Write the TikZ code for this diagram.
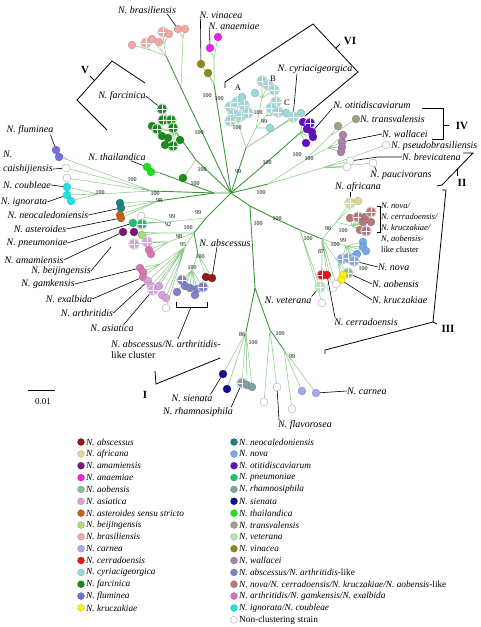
\documentclass[tikz,border=0pt]{standalone}
\usepackage{fontspec}
\setmainfont{Liberation Serif}
\usetikzlibrary{backgrounds}

\definecolor{cAbs}{HTML}{8B1A1A}
\definecolor{cAfr}{HTML}{DCD898}
\definecolor{cAma}{HTML}{7A1878}
\definecolor{cAna}{HTML}{F020E8}
\definecolor{cAob}{HTML}{88C090}
\definecolor{cAsi}{HTML}{D8A0D8}
\definecolor{cAst}{HTML}{C0661A}
\definecolor{cBei}{HTML}{B0D878}
\definecolor{cBra}{HTML}{F0A8A8}
\definecolor{cCar}{HTML}{A8A8F0}
\definecolor{cCer}{HTML}{E81818}
\definecolor{cCyr}{HTML}{98D8D8}
\definecolor{cFar}{HTML}{1E8A1E}
\definecolor{cFlu}{HTML}{7070E0}
\definecolor{cKru}{HTML}{F8F018}
\definecolor{cNeo}{HTML}{1E8080}
\definecolor{cNov}{HTML}{78A8E0}
\definecolor{cOti}{HTML}{6010C0}
\definecolor{cPne}{HTML}{20C070}
\definecolor{cRha}{HTML}{80A0A0}
\definecolor{cSie}{HTML}{10108A}
\definecolor{cTha}{HTML}{20E020}
\definecolor{cTra}{HTML}{A0A080}
\definecolor{cVet}{HTML}{B0E8B0}
\definecolor{cVin}{HTML}{8A8A20}
\definecolor{cWal}{HTML}{A880A8}
\definecolor{cAbl}{HTML}{8080C8}
\definecolor{cNol}{HTML}{B87878}
\definecolor{cArt}{HTML}{D878B0}
\definecolor{cIgn}{HTML}{20E0E0}
\definecolor{brgreen}{HTML}{3A9A3A}
\definecolor{twgreen}{HTML}{8CCC8C}

\begin{document}
\begin{tikzpicture}[x=1pt,y=-1pt,
    dot/.style={circle,inner sep=0pt,minimum size=8pt,fill=#1,draw=#1!75!black,line width=0.2pt},
    mdot/.style={circle,inner sep=0pt,minimum size=10.5pt,fill=#1,draw=gray!35,line width=0.9pt,
      path picture={\draw[white,line width=0.5pt] (path picture bounding box.north) -- (path picture bounding box.south)
        (path picture bounding box.west) -- (path picture bounding box.east);}},
    ndot/.style={circle,inner sep=0pt,minimum size=8pt,fill=white,draw=gray!70,line width=0.4pt},
    ldot/.style={circle,inner sep=0pt,minimum size=7pt,fill=#1,draw=#1!75!black,line width=0.2pt},
    lndot/.style={circle,inner sep=0pt,minimum size=7pt,fill=white,draw=gray!70,line width=0.4pt},
    br/.style={draw=brgreen,line width=0.9pt},
    tw/.style={draw=twgreen,line width=0.55pt},
    bs/.style={font=\fontsize{6}{6}\selectfont,inner sep=0pt},
    sp/.style={font=\fontsize{10}{12}\selectfont\itshape,inner sep=0pt},
    lt/.style={font=\fontsize{9.3}{11}\selectfont,inner sep=0pt,anchor=west},
    rn/.style={font=\fontsize{11}{13}\selectfont\bfseries,inner sep=0pt},
    ld/.style={black,line width=0.6pt},
    clade/.style={black,line width=0.8pt}]
\useasboundingbox (0,0) rectangle (480,627);

% junctions
\coordinate (r) at (231,193);
\coordinate (jBr0) at (181,88);
\coordinate (jBr1) at (166,56);
\coordinate (jBr2) at (150,50);
\coordinate (jBr3) at (164,44);
\coordinate (jBr4) at (183,38);
\coordinate (jVi0) at (214,84);
\coordinate (jVi1) at (214,58);
\coordinate (jFa0) at (196,160);
\coordinate (jFa1) at (176,132);
\coordinate (jL0) at (214,193);
\coordinate (jTh) at (160,173);
\coordinate (jL1) at (152,191);
\coordinate (jFl) at (68,160);
\coordinate (jCo) at (98,194);
\coordinate (jNe) at (158,201);
\coordinate (jLL0) at (206,218);
\coordinate (jLL1) at (194,233);
\coordinate (jPn) at (166,222);
\coordinate (jAm) at (160,233);
\coordinate (jPk) at (168,242);
\coordinate (jGa0) at (185,247);
\coordinate (jGa1) at (160,264);
\coordinate (jAb0) at (198,254);
\coordinate (jAb1) at (192,270);
\coordinate (jCy0) at (246,148);
\coordinate (jCyA) at (238,122);
\coordinate (jCyBC) at (256,128);
\coordinate (jCyB) at (262,98);
\coordinate (jCyC) at (266,116);
\coordinate (jOt0) at (258,170);
\coordinate (jOt) at (300,133);
\coordinate (jR0) at (268,184);
\coordinate (jR1) at (305,160);
\coordinate (jTr) at (330,136);
\coordinate (jWa) at (328,148);
\coordinate (jR2) at (322,168);
\coordinate (jD0) at (250,206);
\coordinate (jIII0) at (276,219);
\coordinate (jIII1) at (300,230);
\coordinate (jIII2) at (322,239);
\coordinate (jAf) at (336,222);
\coordinate (jNl) at (352,226);
\coordinate (jNo) at (346,246);
\coordinate (jAo) at (338,262);
\coordinate (jB1) at (255,288);
\coordinate (jB2) at (246,332);
\coordinate (jB3) at (270,330);
\coordinate (jB4) at (284,350);

% leaves
\node[dot=cBra] (bra1) at (132,45) {};
\node[mdot=cBra] (bra2) at (146,43) {};
\node[dot=cBra] (bra3) at (152,39) {};
\node[dot=cBra] (bra4) at (159,42) {};
\node[mdot=cBra] (bra5) at (163,32) {};
\node[dot=cBra] (bra6) at (169,34) {};
\node[dot=cBra] (bra7) at (178,29) {};
\node[dot=cBra] (bra8) at (185,29) {};
\node[dot=cVin] (vin1) at (201,64) {};
\node[dot=cVin] (vin2) at (208,73) {};
\node[dot=cAna] (ana1) at (210,48) {};
\node[dot=cAna] (ana2) at (218,37) {};
\node[mdot=cFar] (far1) at (162,109) {};
\node[dot=cFar] (far2) at (152,126) {};
\node[mdot=cFar] (far3) at (163,120) {};
\node[mdot=cFar] (far4) at (171,120) {};
\node[mdot=cFar] (far5) at (157,129) {};
\node[mdot=cFar] (far6) at (173,128) {};
\node[dot=cFar] (far7) at (162,136) {};
\node[dot=cFar] (far8) at (168,138) {};
\node[dot=cFar] (far9) at (180,140) {};
\node[mdot=cFar] (far10) at (173,146) {};
\node[dot=cFar] (far11) at (165,145) {};
\node[dot=cFar] (far12) at (183,178) {};
\node[dot=cTha] (tha1) at (147,167) {};
\node[dot=cTha] (tha2) at (151,172) {};
\node[dot=cFlu] (flu1) at (56,150) {};
\node[dot=cFlu] (flu2) at (59,157) {};
\node[ndot] (cai1) at (66,168) {};
\node[ndot] (cai2) at (67,178) {};
\node[dot=cIgn] (cou1) at (67,187) {};
\node[dot=cIgn] (cou2) at (67,195) {};
\node[dot=cIgn] (cou3) at (71,201) {};
\node[dot=cNeo] (neo1) at (120,203) {};
\node[dot=cNeo] (neo2) at (121,208) {};
\node[dot=cAst] (ast1) at (120,215) {};
\node[dot=cAst] (ast2) at (121,218) {};
\node[ndot] (non1) at (141,216) {};
\node[dot=cPne] (pne1) at (133,223) {};
\node[mdot=cPne] (pne2) at (142,224) {};
\node[dot=cAma] (ama1) at (123,232) {};
\node[dot=cAma] (ama2) at (134,232) {};
\node[dot=cBei] (bei1) at (142,235) {};
\node[mdot=cAsi] (pk1) at (134,244) {};
\node[mdot=cAsi] (pk2) at (147,242) {};
\node[dot=cArt] (pk3) at (149,250) {};
\node[dot=cArt] (pk4) at (151,254) {};
\node[dot=cArt] (gam1) at (140,268) {};
\node[dot=cArt] (gam2) at (143,272) {};
\node[dot=cArt] (gam3) at (143,277) {};
\node[dot=cAsi] (asi1) at (148,281) {};
\node[dot=cAsi] (asi2) at (151,286) {};
\node[mdot=cAsi] (asi3) at (153,290) {};
\node[dot=cAsi] (asi4) at (159,286) {};
\node[dot=cAsi] (asi5) at (162,295) {};
\node[dot=cAsi] (asi6) at (166,298) {};
\node[ndot] (non2) at (166,308) {};
\node[mdot=cAbl] (abl1) at (182,280) {};
\node[dot=cAbl] (abl2) at (177,292) {};
\node[dot=cAbl] (abl3) at (185,286) {};
\node[dot=cAbl] (abl4) at (190,288) {};
\node[dot=cAbl] (abl5) at (195,295) {};
\node[dot=cAbl] (abl6) at (197,289) {};
\node[mdot=cAbl] (abl7) at (203,287) {};
\node[dot=cAbs] (abs1) at (206,277) {};
\node[dot=cAbs] (abs2) at (212,278) {};
\node[mdot=cCyr] (cyA1) at (230,107) {};
\node[mdot=cCyr] (cyA2) at (237,102) {};
\node[dot=cCyr] (cyA3) at (242,97) {};
\node[mdot=cCyr] (cyA4) at (244,105) {};
\node[mdot=cCyr] (cyA5) at (233,114) {};
\node[mdot=cCyr] (cyA6) at (241,116) {};
\node[mdot=cCyr] (cyA7) at (248,113) {};
\node[mdot=cCyr] (cyA8) at (230,121) {};
\node[mdot=cCyr] (cyB1) at (262,81) {};
\node[mdot=cCyr] (cyB2) at (268,85) {};
\node[mdot=cCyr] (cyB3) at (274,90) {};
\node[dot=cCyr] (cyB4) at (255,93) {};
\node[mdot=cCyr] (cyC1) at (276,102) {};
\node[mdot=cCyr] (cyC2) at (271,108) {};
\node[mdot=cCyr] (cyC3) at (278,112) {};
\node[dot=cCyr] (cyC4) at (286,113) {};
\node[dot=cCyr] (cyC5) at (270,128) {};
\node[mdot=cCyr] (cyr1) at (293,117) {};
\node[dot=cCyr] (cyr2) at (301,113) {};
\node[dot=cOti] (oti1) at (303,122) {};
\node[mdot=cOti] (oti2) at (310,123) {};
\node[dot=cOti] (oti3) at (307,129) {};
\node[dot=cOti] (oti4) at (312,132) {};
\node[dot=cOti] (oti5) at (313,137) {};
\node[dot=cOti] (oti6) at (306,143) {};
\node[dot=cTra] (tra1) at (338,126) {};
\node[dot=cTra] (tra2) at (356,119) {};
\node[dot=cWal] (wal1) at (343,135) {};
\node[dot=cWal] (wal2) at (342,142) {};
\node[dot=cWal] (wal3) at (342,147) {};
\node[dot=cWal] (wal4) at (341,152) {};
\node[ndot] (pse1) at (386,145) {};
\node[ndot] (bre1) at (350,161) {};
\node[ndot] (bre2) at (347,167) {};
\node[ndot] (pau1) at (373,163) {};
\node[mdot=cAfr] (afr1) at (350,203) {};
\node[dot=cAfr] (afr2) at (358,201) {};
\node[dot=cNol] (nol1) at (350,218) {};
\node[mdot=cNol] (nol2) at (358,217) {};
\node[dot=cNol] (nol3) at (365,217) {};
\node[mdot=cNol] (nol4) at (371,212) {};
\node[dot=cNol] (nol5) at (363,222) {};
\node[dot=cNol] (nol6) at (371,222) {};
\node[dot=cNol] (nol7) at (360,230) {};
\node[mdot=cNol] (nol8) at (366,231) {};
\node[dot=cNov] (nov1) at (363,242) {};
\node[dot=cNov] (nov2) at (363,247) {};
\node[dot=cNov] (nov3) at (366,251) {};
\node[dot=cNov] (nov4) at (357,254) {};
\node[dot=cNov] (nov5) at (353,257) {};
\node[mdot=cNov] (nov6) at (342,259) {};
\node[mdot=cNov] (nov7) at (348,258) {};
\node[mdot=cNov] (nov8) at (354,261) {};
\node[mdot=cAob] (aob1) at (348,273) {};
\node[dot=cKru] (kru1) at (343,275) {};
\node[dot=cKru] (kru2) at (341,280) {};
\node[mdot=cCer] (cer1) at (322,275) {};
\node[dot=cCer] (cer2) at (327,275) {};
\node[mdot=cVet] (vet1) at (320,287) {};
\node[mdot=white] (non4) at (332,287) {};
\node[ndot] (non5) at (336,284) {};
\node[ndot] (non3) at (322,303) {};
\node[dot=cSie] (sie1) at (223,374) {};
\node[dot=cSie] (sie2) at (227,389) {};
\node[mdot=cRha] (rha1) at (242,383) {};
\node[dot=cRha] (rha2) at (247,385) {};
\node[dot=cRha] (rha3) at (252,387) {};
\node[ndot] (non6) at (264,402) {};
\node[ndot] (non7) at (277,387) {};
\node[ndot] (non8) at (292,409) {};
\node[dot=cCar] (car1) at (302,391) {};
\node[dot=cCar] (car2) at (316,393) {};

% branches
\begin{scope}[on background layer]
\draw[br] (r) -- (jBr0) -- (jBr1);
\draw[tw] (jBr1) -- (jBr2) (jBr2) -- (bra1) (jBr2) -- (bra2) (jBr1) -- (bra3) (jBr1) -- (jBr3)
  (jBr3) -- (bra4) (jBr3) -- (bra5) (jBr3) -- (bra6) (jBr0) -- (jBr4) (jBr4) -- (bra7) (jBr4) -- (bra8);
\draw[br] (r) -- (jVi0);
\draw[tw] (jVi0) -- (vin1) (jVi0) -- (vin2) (jVi0) -- (jVi1) (jVi1) -- (ana1) (jVi1) -- (ana2);
\draw[br] (r) -- (jFa0) -- (jFa1);
\draw[tw] (jFa0) -- (far12) (jFa1) -- (far1) (jFa1) -- (far2) (jFa1) -- (far3) (jFa1) -- (far4) (jFa1) -- (far5)
  (jFa1) -- (far6) (jFa1) -- (far7) (jFa1) -- (far8) (jFa1) -- (far9) (jFa1) -- (far10) (jFa1) -- (far11);
\draw[br] (r) -- (jL0) -- (jTh);
\draw[tw] (jTh) -- (tha1) (jTh) -- (tha2);
\draw[br] (jL0) -- (jL1);
\draw[tw] (jL1) -- (jFl) (jFl) -- (flu1) (jFl) -- (flu2) (jL1) -- (cai1) (jL1) -- (cai2)
  (jL1) -- (jCo) (jCo) -- (cou1) (jCo) -- (cou2) (jCo) -- (cou3);
\draw[br] (jL0) -- (jNe);
\draw[tw] (jNe) -- (neo1) (jNe) -- (neo2) (jNe) -- (ast1) (jNe) -- (ast2);
\draw[br] (r) -- (jLL0) -- (jLL1);
\draw[tw] (jLL0) -- (jPn) (jPn) -- (non1) (jPn) -- (pne1) (jPn) -- (pne2)
  (jLL1) -- (jAm) (jAm) -- (ama1) (jAm) -- (ama2) (jAm) -- (bei1)
  (jLL1) -- (jPk) (jPk) -- (pk1) (jPk) -- (pk2) (jPk) -- (pk3) (jPk) -- (pk4);
\draw[tw] (jLL1) -- (jGa0) (jGa0) -- (jGa1) (jGa1) -- (gam1) (jGa1) -- (gam2) (jGa1) -- (gam3)
  (jGa0) -- (asi1) (jGa0) -- (asi2) (jGa0) -- (asi3) (jGa0) -- (asi4) (jGa0) -- (asi5) (jGa0) -- (asi6) (jGa0) -- (non2);
\draw[br] (jLL1) -- (jAb0);
\draw[tw] (jAb0) -- (abs1) (jAb0) -- (abs2) (jAb0) -- (jAb1) (jAb1) -- (abl1) (jAb1) -- (abl2) (jAb1) -- (abl3)
  (jAb1) -- (abl4) (jAb1) -- (abl5) (jAb1) -- (abl6) (jAb1) -- (abl7);
\draw[br] (r) -- (jCy0);
\draw[tw] (jCy0) -- (jCyA) (jCyA) -- (cyA1) (jCyA) -- (cyA2) (jCyA) -- (cyA3) (jCyA) -- (cyA4) (jCyA) -- (cyA5)
  (jCyA) -- (cyA6) (jCyA) -- (cyA7) (jCyA) -- (cyA8)
  (jCy0) -- (jCyBC) (jCyBC) -- (jCyB) (jCyB) -- (cyB1) (jCyB) -- (cyB2) (jCyB) -- (cyB3) (jCyB) -- (cyB4)
  (jCyBC) -- (jCyC) (jCyC) -- (cyC1) (jCyC) -- (cyC2) (jCyC) -- (cyC3) (jCyC) -- (cyC4) (jCyBC) -- (cyC5)
  (jCy0) -- (cyr1) (jCy0) -- (cyr2);
\draw[br] (r) -- (jOt0) -- (jOt);
\draw[tw] (jOt) -- (oti1) (jOt) -- (oti2) (jOt) -- (oti3) (jOt) -- (oti4) (jOt) -- (oti5) (jOt) -- (oti6);
\draw[br] (r) -- (jR0);
\draw[tw] (jR0) -- (jR1) (jR1) -- (jTr) (jTr) -- (tra1) (jTr) -- (tra2)
  (jR1) -- (jWa) (jWa) -- (wal1) (jWa) -- (wal2) (jWa) -- (wal3) (jWa) -- (wal4)
  (jR0) -- (jR2) (jR2) -- (pse1) (jR2) -- (bre1) (jR2) -- (bre2) (jR2) -- (pau1);
\draw[br] (r) -- (jD0) -- (jIII0) -- (jIII1) -- (jIII2);
\draw[tw] (jIII1) -- (vet1) (jIII1) -- (non3) (jIII2) -- (jAf) (jAf) -- (afr1) (jAf) -- (afr2)
  (jAf) -- (jNl) (jNl) -- (nol1) (jNl) -- (nol2) (jNl) -- (nol3) (jNl) -- (nol4) (jNl) -- (nol5)
  (jNl) -- (nol6) (jNl) -- (nol7) (jNl) -- (nol8)
  (jIII2) -- (jNo) (jNo) -- (nov1) (jNo) -- (nov2) (jNo) -- (nov3) (jNo) -- (nov4) (jNo) -- (nov5)
  (jNo) -- (nov6) (jNo) -- (nov7) (jNo) -- (nov8)
  (jIII2) -- (jAo) (jAo) -- (aob1) (jAo) -- (kru1) (jAo) -- (kru2)
  (jIII2) -- (cer1) (jIII2) -- (cer2) (jIII2) -- (non4) (jIII2) -- (non5);
\draw[br] (jD0) -- (jB1) -- (jB2);
\draw[tw] (jB2) -- (sie1) (jB2) -- (sie2) (jB2) -- (rha1) (jB2) -- (rha2) (jB2) -- (rha3);
\draw[br] (jB1) -- (jB3) -- (jB4);
\draw[tw] (jB3) -- (non6) (jB3) -- (non7) (jB4) -- (car1) (jB4) -- (car2) (jB4) -- (non8);
\end{scope}

% bootstrap values
\node[bs] (bs1) at (207,96) {100};
\node[bs] (bs2) at (219,99) {100};
\node[bs] (bs3) at (199,133) {100};
\node[bs] (bs4) at (202,170) {100};
\node[bs] (bs5) at (195,184) {100};
\node[bs] (bs6) at (132,180) {100};
\node[bs] (bs7) at (100,193) {100};
\node[bs] (bs8) at (155,194) {100};
\node[bs] (bs9) at (159,201) {98};
\node[bs] (bs10) at (237,128) {100};
\node[bs] (bs11) at (258,113) {100};
\node[bs] (bs12) at (264,122) {99};
\node[bs] (bs13) at (238,172) {99};
\node[bs] (bs14) at (267,163) {100};
\node[bs] (bs15) at (297,155) {100};
\node[bs] (bs16) at (309,159) {100};
\node[bs] (bs17) at (261,193) {100};
\node[bs] (bs18) at (258,224) {100};
\node[bs] (bs19) at (277,219) {100};
\node[bs] (bs20) at (198,213) {99};
\node[bs] (bs21) at (172,217) {99};
\node[bs] (bs22) at (168,225) {92};
\node[bs] (bs23) at (188,228) {100};
\node[bs] (bs24) at (179,237) {98};
\node[bs] (bs25) at (183,245) {95};
\node[bs] (bs26) at (200,257) {100};
\node[bs] (bs27) at (192,268) {100};
\node[bs] (bs28) at (308,239) {100};
\node[bs] (bs29) at (328,229) {96};
\node[bs] (bs30) at (343,231) {100};
\node[bs] (bs31) at (343,241) {99};
\node[bs] (bs32) at (335,245) {100};
\node[bs] (bs33) at (321,252) {87};
\node[bs] (bs34) at (363,269) {100};
\node[bs] (bs35) at (242,335) {86};
\node[bs] (bs36) at (253,343) {100};
\node[bs] (bs37) at (280,334) {100};
\node[bs] (bs38) at (292,357) {99};

% subgroup letters
\node[font=\fontsize{8.5}{10}\selectfont,inner sep=0pt] (lA) at (238,88) {A};
\node[font=\fontsize{8.5}{10}\selectfont,inner sep=0pt] (lB) at (273,79) {B};
\node[font=\fontsize{8.5}{10}\selectfont,inner sep=0pt] (lC) at (287,103) {C};

% species labels
\node[sp] (lBra) at (147,10) {N. brasiliensis};
\node[sp] (lVin) at (221,15) {N. vinacea};
\node[sp] (lAna) at (234,26) {N. anaemiae};
\node[sp] (lCyr) at (315,69) {N. cyriacigeorgica};
\node[sp] (lOti) at (372,105) {N. otitidiscaviarum};
\node[sp,anchor=west] (lTra) at (360,119) {N. transvalensis};
\node[sp,anchor=west] (lWal) at (382,134) {N. wallacei};
\node[sp,anchor=west] (lPse) at (391,146) {N. pseudobrasiliensis};
\node[sp,anchor=west] (lBrv) at (402,157) {N. brevicatena};
\node[sp] (lPau) at (401,175) {N. paucivorans};
\node[sp] (lAfr) at (358,187) {N. africana};
\node[font=\fontsize{8.5}{11}\selectfont,inner sep=0pt,align=left,anchor=north west] (lNol) at (381,203)
  {\textit{N. nova/}\\\textit{N. cerradoensis/}\\\textit{N. kruczakiae/}\\\textit{N, aobensis}-\\like cluster};
\node[sp,anchor=west] (lNov) at (378,267) {N. nova};
\node[sp,anchor=west] (lAob) at (372,284) {N. aobensis};
\node[sp,anchor=west] (lKru) at (372,300) {N. kruczakiae};
\node[sp] (lCer) at (366,322) {N. cerradoensis};
\node[sp] (lVet) at (288,300) {N. veterana};
\node[sp,anchor=west] (lCar) at (347,391) {N. carnea};
\node[sp] (lFla) at (305,425) {N. flavorosea};
\node[sp] (lRha) at (198,412) {N. rhamnosiphila};
\node[sp] (lSie) at (192,398) {N. sienata};
\node[sp] (lAbs) at (225,243) {N. abscessus};
\node[font=\fontsize{10}{11}\selectfont,inner sep=0pt,align=left,anchor=north west] (lAbl) at (111,340)
  {\textit{N. abscessus/N. arthritidis}-\\like cluster};
\node[sp] (lAsi) at (112,328) {N. asiatica};
\node[sp] (lArt) at (87,313) {N. arthritidis};
\node[sp] (lExa) at (69,299) {N. exalbida};
\node[sp] (lGam) at (48,284) {N. gamkensis};
\node[sp] (lBei) at (61,271) {N. beijingensis};
\node[sp] (lAma) at (34,260) {N. amamiensis};
\node[sp] (lPne) at (37,243) {N. pneumoniae};
\node[sp] (lAst) at (40,229) {N. asteroides};
\node[sp] (lNeo) at (48,215) {N. neocaledoniensis};
\node[sp] (lIgn) at (24,202) {N. ignorata};
\node[sp] (lCou) at (27,185) {N. coubleae};
\node[sp,font=\fontsize{10}{14}\selectfont\itshape,align=left,anchor=north west] (lCai) at (3,151) {N.\\caishijiensis};
\node[sp] (lFlu) at (30,130) {N. fluminea};
\node[sp] (lTha) at (117,157) {N. thailandica};
\node[sp] (lFar) at (122,96) {N. farcinica};
\coordinate (beiEnd) at (111,247);

% leader lines
\draw[ld] ([xshift=-9pt]lBra.south east) -- (bra7);
\draw[ld] ([xshift=1pt]lVin.south west) -- (vin1);
\draw[ld] ([xshift=1pt]lAna.south west) -- (ana1);
\draw[ld] ([xshift=-18pt]lCyr.south) -- (cyr1);
\draw[ld] ([xshift=-40pt]lOti.south) -- (oti4);
\draw[ld] (lWal.west) -- (wal2);
\draw[ld] (lBrv.west) -- ++(-24,0) -- (bre1);
\draw[ld] ([xshift=6pt]lPau.north west) -- (pau1);
\draw[ld] ([xshift=-8pt]lAfr.south) -- (afr1);
\draw[ld] (lNol.north west) ++(-4,3) -- ++(3,0) -- ++(0,26) -- ++(-3,0);
\draw[ld] (lNov.west) -- (nov8);
\draw[ld] (lAob.west) -- (aob1);
\draw[ld] (lKru.west) -- (kru2);
\draw[ld] ([xshift=1pt]lCer.north west) -- (cer2);
\draw[ld] (lVet.north east) -- (vet1);
\draw[ld] (lCar.west) -- (car2);
\draw[ld] ([xshift=1pt]lFla.north west) -- (non7);
\draw[ld] ([xshift=-2pt]lRha.north east) -- (rha1);
\draw[ld] ([xshift=-2pt]lSie.north east) -- (sie1);
\draw[ld] ([xshift=-8pt]lAbs.south) -- (abs2);
\draw[ld] ([xshift=-10pt]lAsi.north east) -- (asi3);
\draw[ld] (lArt.east) -- (asi1);
\draw[ld] (lExa.east) -- (gam3);
\draw[ld] (lGam.east) -- (gam1);
\draw[ld] (lBei.east) -- (beiEnd);
\draw[ld] (lAma.east) -- (ama1);
\draw[ld] (lPne.east) -- (pne1);
\draw[ld] (lAst.east) -- (ast2);
\draw[ld] (lNeo.east) -- (neo2);
\draw[ld] (lIgn.east) -- (cou2);
\draw[ld] (lCou.east) -- (cou1);
\draw[ld] ([yshift=5pt]lCai.south east) -- (cai1);
\draw[ld] ([xshift=-3pt]lFlu.south east) -- (flu1);
\draw[ld] ([xshift=-15pt]lTha.south east) -- (tha1);
\draw[ld] (lFar.east) -- (far1);

% clade brackets
\draw[clade] (225,88) -- (225,82) -- (313,24) -- (358,72) -- (305,116);
\draw[clade] (336,48) -- (340,44);
\node[rn] (nVI) at (350,41) {VI};
\draw[clade] (145,83) -- (112,61) -- (77,100) -- (107,130);
\draw[clade] (94,80) -- (90,76);
\node[rn] (nV) at (85,70) {V};
\draw[clade] (422,108) -- (443,108) -- (443,139) -- (432,139);
\draw[clade] (443,125) -- (449,125);
\node[rn] (nIV) at (462,126) {IV};
\draw[clade] (463,153) -- (473,153) -- (442,185) -- (437,186);
\draw[clade] (457,169) -- (457,176);
\node[rn] (nII) at (462,183) {II};
\draw[clade] (442,190) -- (446,190) -- (433,322) -- (325,350) -- (325,354);
\draw[clade] (433,322) -- (437,324);
\node[rn] (nIII) at (448,329) {III};
\draw[clade] (155,371) -- (156,384) -- (220,358);
\node[rn] (nI) at (145,395) {I};
\draw[ld] (176,302) -- (176,307) -- (207,307) -- (207,302);
\draw[ld] (191,307) -- ([xshift=67pt,yshift=1pt]lAbl.north west);

% scale bar
\draw[ld] (28,390) -- (55,390);
\node[font=\fontsize{9}{10}\selectfont,inner sep=0pt] (sc) at (43,402) {0.01};

% legend
\node[ldot=cAbs] (k1) at (81,442) {};   \node[lt] (t1) at (86,442) {\textit{N. abscessus}};
\node[ldot=cAfr] (k2) at (81,453.9) {}; \node[lt] (t2) at (86,453.9) {\textit{N. africana}};
\node[ldot=cAma] (k3) at (81,465.7) {}; \node[lt] (t3) at (86,465.7) {\textit{N. amamiensis}};
\node[ldot=cAna] (k4) at (81,477.6) {}; \node[lt] (t4) at (86,477.6) {\textit{N. anaemiae}};
\node[ldot=cAob] (k5) at (81,489.4) {}; \node[lt] (t5) at (86,489.4) {\textit{N. aobensis}};
\node[ldot=cAsi] (k6) at (81,501.3) {}; \node[lt] (t6) at (86,501.3) {\textit{N. asiatica}};
\node[ldot=cAst] (k7) at (81,513.1) {}; \node[lt] (t7) at (86,513.1) {\textit{N. asteroides sensu stricto}};
\node[ldot=cBei] (k8) at (81,525) {};   \node[lt] (t8) at (86,525) {\textit{N. beijingensis}};
\node[ldot=cBra] (k9) at (81,536.8) {}; \node[lt] (t9) at (86,536.8) {\textit{N. brasiliensis}};
\node[ldot=cCar] (k10) at (81,548.7) {}; \node[lt] (t10) at (86,548.7) {\textit{N. carnea}};
\node[ldot=cCer] (k11) at (81,560.5) {}; \node[lt] (t11) at (86,560.5) {\textit{N. cerradoensis}};
\node[ldot=cCyr] (k12) at (81,572.4) {}; \node[lt] (t12) at (86,572.4) {\textit{N. cyriacigeorgica}};
\node[ldot=cFar] (k13) at (81,584.2) {}; \node[lt] (t13) at (86,584.2) {\textit{N. farcinica}};
\node[ldot=cFlu] (k14) at (81,596.1) {}; \node[lt] (t14) at (86,596.1) {\textit{N. fluminea}};
\node[ldot=cKru] (k15) at (81,607.9) {}; \node[lt] (t15) at (86,607.9) {\textit{N. kruczakiae}};
\node[ldot=cNeo] (k16) at (234,442) {};   \node[lt] (t16) at (239,442) {\textit{N. neocaledoniensis}};
\node[ldot=cNov] (k17) at (234,453.9) {}; \node[lt] (t17) at (239,453.9) {\textit{N. nova}};
\node[ldot=cOti] (k18) at (234,465.7) {}; \node[lt] (t18) at (239,465.7) {\textit{N. otitidiscaviarum}};
\node[ldot=cPne] (k19) at (234,477.6) {}; \node[lt] (t19) at (239,477.6) {\textit{N. pneumoniae}};
\node[ldot=cRha] (k20) at (234,489.4) {}; \node[lt] (t20) at (239,489.4) {\textit{N. rhamnosiphila}};
\node[ldot=cSie] (k21) at (234,501.3) {}; \node[lt] (t21) at (239,501.3) {\textit{N. sienata}};
\node[ldot=cTha] (k22) at (234,513.1) {}; \node[lt] (t22) at (239,513.1) {\textit{N. thailandica}};
\node[ldot=cTra] (k23) at (234,525) {};   \node[lt] (t23) at (239,525) {\textit{N. transvalensis}};
\node[ldot=cVet] (k24) at (234,536.8) {}; \node[lt] (t24) at (239,536.8) {\textit{N. veterana}};
\node[ldot=cVin] (k25) at (234,548.7) {}; \node[lt] (t25) at (239,548.7) {\textit{N. vinacea}};
\node[ldot=cWal] (k26) at (234,560.5) {}; \node[lt] (t26) at (239,560.5) {\textit{N. wallacei}};
\node[ldot=cAbl] (k27) at (234,572.4) {}; \node[lt] (t27) at (239,572.4) {\textit{N. abscessus/N. arthritidis}-like};
\node[ldot=cNol] (k28) at (234,584.2) {}; \node[lt] (t28) at (239,584.2) {\textit{N. nova/N. cerradoensis/N. kruczakiae/N. aobensis}-like};
\node[ldot=cArt] (k29) at (234,596.1) {}; \node[lt] (t29) at (239,596.1) {\textit{N. arthritidis/N. gamkensis/N. exalbida}};
\node[ldot=cIgn] (k30) at (234,607.9) {}; \node[lt] (t30) at (239,607.9) {\textit{N. ignorata/N. coubleae}};
\node[lndot] (k31) at (234,619.8) {};     \node[lt] (t31) at (239,619.8) {Non-clustering strain};
\end{tikzpicture}
\end{document}
